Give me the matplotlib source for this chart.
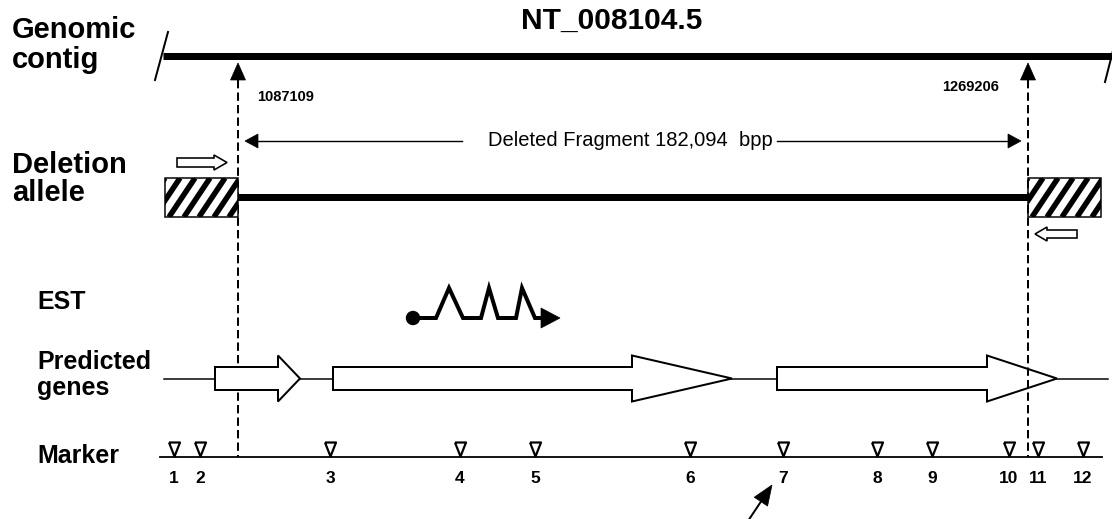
import matplotlib
matplotlib.use('Agg')
import matplotlib.pyplot as plt
from matplotlib.patches import Polygon, Rectangle, Circle
import numpy as np

plt.rcParams['font.family'] = ['Liberation Sans', 'DejaVu Sans']
plt.rcParams['lines.scale_dashes'] = False

# ---------------- data (pixel positions along the drawing) ----------------
title = "NT_008104.5"
top_labels = ["Genomic", "contig", "Deletion", "allele"]
lower_labels = ["EST", "Predicted", "genes", "Marker"]

breakpoints = [238, 1028]
breakpoint_labels = ["1087109", "1269206"]
breakpoint_label_x = [257, 942]
breakpoint_label_y = [97, 87]

deleted_label = "Deleted Fragment 182,094  bpp"

marker_pos = [174, 200, 330, 460, 535, 690, 783, 877, 932, 1009, 1038, 1083]
marker_labels = ["1", "2", "3", "4", "5", "6", "7", "8", "9", "10", "11", "12"]

gene_start = [215, 333, 777]
gene_headbase = [278, 632, 987]
gene_tip = [300, 732, 1057]

est_x = [413, 436, 449, 463, 481, 489, 498, 516, 522, 535, 541]
est_level = [0, 0, 1, 0, 0, 1, 0, 0, 1, 0, 0]

# ---------------- layout ----------------
W, H = 1112, 519
PT = 0.72  # px -> pt at dpi 100
contig_y = 56
deletion_y = 197
est_y = 318
gene_y = 378.5
marker_y = 457

fig = plt.figure(figsize=(W / 100, H / 100), dpi=100)
ax = fig.add_axes([0, 0, 1, 1])
ax.set_xlim(0, W)
ax.set_ylim(H, 0)
ax.axis('off')


def head(tip, d, length, half, z=5, fc='black'):
    d = np.asarray(d, float)
    d = d / np.hypot(*d)
    tip = np.asarray(tip, float)
    base = tip - d * length
    perp = np.array([-d[1], d[0]])
    ax.add_patch(Polygon([tip, base + perp * half, base - perp * half],
                         closed=True, fc=fc, ec='black', lw=0.5, zorder=z))


# ---------------- texts ----------------
bold = dict(weight='bold', color='black')
ax.text(612, 29, title, ha='center', va='baseline', fontsize=21.5, **bold)
ax.text(12, 38, top_labels[0], va='baseline', fontsize=21, **bold)
ax.text(12, 68, top_labels[1], va='baseline', fontsize=21, **bold)
ax.text(12, 173, top_labels[2], va='baseline', fontsize=21, **bold)
ax.text(12, 201, top_labels[3], va='baseline', fontsize=21, **bold)
ax.text(37, 309, lower_labels[0], va='baseline', fontsize=18, **bold)
ax.text(37, 369, lower_labels[1], va='baseline', fontsize=18, **bold)
ax.text(37, 395, lower_labels[2], va='baseline', fontsize=18, **bold)
ax.text(37, 463, lower_labels[3], va='baseline', fontsize=18, **bold)

# ---------------- genomic contig ----------------
ax.plot([163, W + 5], [contig_y, contig_y], color='black', lw=7 * PT,
        solid_capstyle='butt', zorder=3)
ax.plot([155, 168], [80, 32], color='black', lw=2 * PT, zorder=3)
ax.plot([1105, 1117], [82, 35], color='black', lw=2 * PT, zorder=3)

# breakpoints: dashed lines with arrowheads
for i, bx in enumerate(breakpoints):
    ax.plot([bx, bx], [80, marker_y], color='black', lw=2 * PT,
            dashes=(6, 3), zorder=1 if i == 0 else 4)
    head((bx, 63), (0, -1), 17, 7.5)
    ax.text(breakpoint_label_x[i], breakpoint_label_y[i], breakpoint_labels[i],
            ha='left', va='center', fontsize=10.5, **bold)

# deleted fragment arrow
ax.plot([258, 462], [141, 141], color='black', lw=1.4 * PT)
ax.plot([777, 1008], [141, 141], color='black', lw=1.4 * PT)
head((245, 141), (-1, 0), 13, 7)
head((1021, 141), (1, 0), 13, 7)
ax.text(630, 141, deleted_label, ha='center', va='center', fontsize=14.5,
        color='black')

# deletion allele: hatched flanks
box_w, box_top, box_h = 73, 178, 39
run = 26.0
for x0 in [165, 1028]:
    rect = Rectangle((x0, box_top), box_w, box_h, fc='white', ec='none',
                     zorder=2)
    ax.add_patch(rect)
    for k in np.arange(-run, box_w + run, 15.0):
        ln, = ax.plot([x0 + k, x0 + k + run],
                      [box_top + box_h, box_top],
                      color='black', lw=5.5 * PT, solid_capstyle='butt',
                      zorder=2.1)
        ln.set_clip_path(rect)
    ax.add_patch(Rectangle((x0, box_top), box_w, box_h, fc='none', ec='black',
                           lw=1.5 * PT, zorder=2.2))
ax.plot([breakpoints[0], breakpoints[1]], [deletion_y, deletion_y],
        color='black', lw=7 * PT, solid_capstyle='butt', zorder=3)

# primers (hollow arrows)
ax.add_patch(Polygon([(177, 158), (214, 158), (214, 155), (227, 162.5),
                      (214, 170), (214, 167), (177, 167)],
                     closed=True, fc='white', ec='black', lw=1.6 * PT, zorder=3))
ax.add_patch(Polygon([(1077, 230), (1047, 230), (1047, 227), (1035, 234),
                      (1047, 241), (1047, 238), (1077, 238)],
                     closed=True, fc='white', ec='black', lw=1.6 * PT, zorder=3))

# EST
est_yy = [est_y - 30 * lv for lv in est_level]
ax.plot(est_x, est_yy, color='black', lw=4 * PT, solid_joinstyle='miter',
        zorder=3)
ax.add_patch(Circle((413, est_y), 6.5, fc='black', ec='black', zorder=4))
head((560, est_y), (1, 0), 19, 10)

# predicted genes
ax.plot([164, 1108], [gene_y, gene_y], color='black', lw=1.5 * PT, zorder=1.5)
bh, hh = 11.5, 23
for s, hb, t in zip(gene_start, gene_headbase, gene_tip):
    ax.add_patch(Polygon([(s, gene_y - bh), (hb, gene_y - bh), (hb, gene_y - hh),
                          (t, gene_y), (hb, gene_y + hh), (hb, gene_y + bh),
                          (s, gene_y + bh)],
                         closed=True, fc='white', ec='black', lw=2 * PT,
                         joinstyle='miter', zorder=2))

# markers
ax.plot([160, 1102], [marker_y, marker_y], color='black', lw=1.8 * PT, zorder=3)
tri = [(-5.5, 7), (5.5, 7), (0, -7), (-5.5, 7)]
ax.plot(marker_pos, [448.5] * len(marker_pos), linestyle='none', marker=tri,
        ms=14 * PT, mfc='white', mec='black', mew=2.2 * PT, zorder=4)
for xp, lab in zip(marker_pos, marker_labels):
    ax.text(xp, 483, lab, ha='center', va='baseline', fontsize=12.5, **bold)

# arrow pointing at marker 7
tail = np.array([746, 524.0])
tip = np.array([772, 485.0])
d = (tip - tail) / np.hypot(*(tip - tail))
ax.plot([tail[0], (tip - d * 18)[0]], [tail[1], (tip - d * 18)[1]],
        color='black', lw=2 * PT)
head(tip, tip - tail, 20, 8)

fig.savefig('out.png', dpi=100, facecolor='white')
